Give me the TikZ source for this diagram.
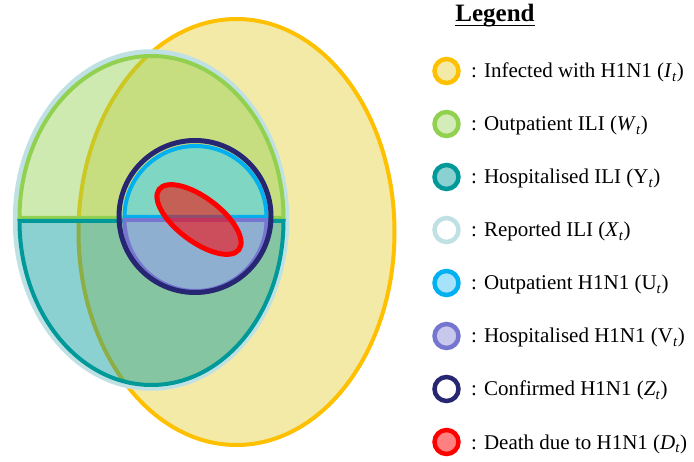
\documentclass[tikz,border=0pt]{standalone}
\usepackage{fontspec}
\setmainfont{Liberation Serif}
\usepackage{color}
\usepackage{tikz}
\definecolor{infected}{HTML}{FFC000}
\definecolor{infectedin}{HTML}{F3EAA8}
\definecolor{outili}{HTML}{92D050}
\definecolor{hospili}{HTML}{009999}
\definecolor{repili}{HTML}{BFE1E4}
\definecolor{outflu}{HTML}{00B0F0}
\definecolor{hospflu}{HTML}{7676D0}
\definecolor{confflu}{HTML}{262673}
\definecolor{deathflu}{HTML}{FF0000}
\definecolor{outfluin}{HTML}{7FD6C2}
\definecolor{hospfluin}{HTML}{8FAFD0}
\newcommand{\itsub}[1]{\textit{#1}\textsubscript{\textit{t}}}
\newcommand{\upsub}[1]{#1\textsubscript{\textit{t}}}

\begin{document}
\begin{tikzpicture}[x=1pt, y=1pt, every node/.style={inner sep=0pt},
	legtext/.style={anchor=base west, font=\fontsize{21}{25}\selectfont},
	keydot/.style={circle, line width=4.5, minimum size=24pt}]
						\useasboundingbox (0,0) rectangle (694,461);
						\draw[infected, line width=4, fill=infectedin] (236.5,229) ellipse [x radius=158pt, y radius=213pt];
						\draw[repili, line width=5.5] (151,241) ellipse [x radius=135.5pt, y radius=168pt];
						\draw[outili, line width=4, fill=outili, fill opacity=.45] (19.5,243) arc [start angle=180, end angle=0, x radius=132pt, y radius=162pt] -- cycle;
						\draw[hospili, line width=4, fill=hospili, fill opacity=.45] (19.5,240) arc [start angle=180, end angle=360, x radius=132pt, y radius=164pt] -- cycle;
						\draw[outflu, line width=4, fill=outfluin] (124.5,244) arc [start angle=180, end angle=0, radius=71pt] -- cycle;
						\draw[hospflu, line width=4, fill=hospfluin] (124.5,241) arc [start angle=180, end angle=360, radius=71pt] -- cycle;
						\draw[confflu, line width=5] (195,244.5) circle [radius=76pt];
						\draw[deathflu, line width=5, fill=deathflu, fill opacity=.55, shift={(199,241.5)}, rotate=-37] (0,0) ellipse [x radius=50pt, y radius=22pt];
						\node[font=\fontsize{25}{30}\selectfont\bfseries, anchor=base] (title) at (495,439) {Legend};
						\draw[line width=1.6] ([yshift=-3.5pt]title.base west) -- ([yshift=-3.5pt]title.base east);
						\foreach \i/\col/\fil/\txt in {0/infected/infectedin/{Infected with H1N1 (\itsub{I})},
								1/outili/outili!40/{Outpatient ILI (\itsub{W})},
								2/hospili/hospili!45/{Hospitalised ILI (\upsub{Y})},
								3/repili/white/{Reported ILI (\itsub{X})},
								4/outflu/outflu!35/{Outpatient H1N1 (\upsub{U})},
								5/hospflu/hospflu!40/{Hospitalised H1N1 (\upsub{V})},
								6/confflu/white/{Confirmed H1N1 (\itsub{Z})},
								7/deathflu/deathflu!50/{Death due to H1N1 (\itsub{D})}}
						{
						    \node[keydot, draw=\col, fill=\fil] (key\i) at (446.5,390-53*\i) {};
						    \node[legtext] (lab\i) at (471,383-53*\i) {: \txt};
						}
						\end{tikzpicture}
\end{document}
